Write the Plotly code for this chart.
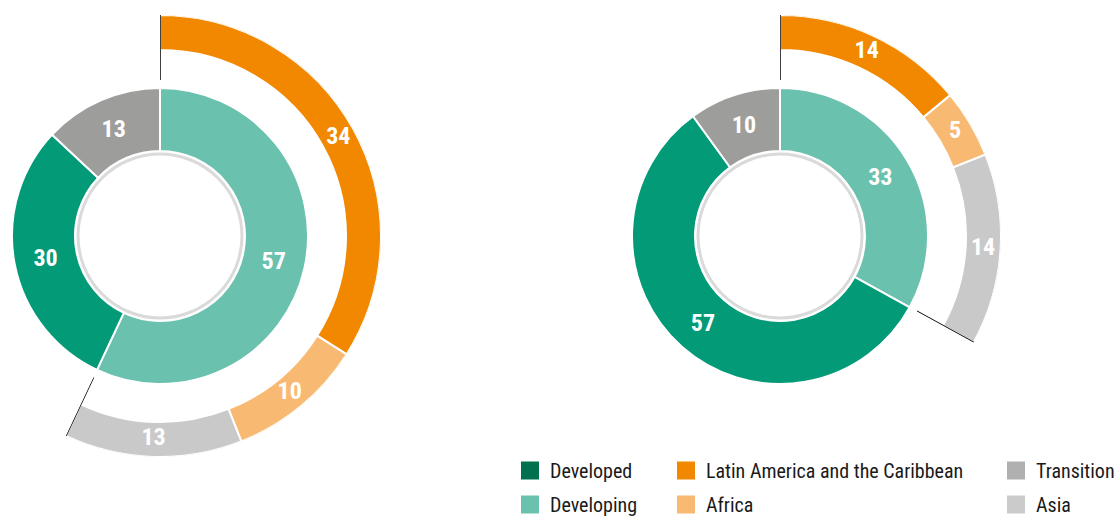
import numpy as np
import plotly.graph_objects as go

W, H = 1116, 516

# Inner ring: economy groups, clockwise from 12 o'clock
group_labels = ["Developing", "Developed", "Transition"]
left_groups = [57, 30, 13]
right_groups = [33, 57, 10]

# Outer ring: regional split of the developing economies
region_labels = ["Latin America and the Caribbean", "Africa", "Asia"]
left_regions = [34, 10, 13]
right_regions = [14, 5, 14]

# Legend columns
legend_columns = [
    ["Developed", "Developing"],
    ["Latin America and the Caribbean", "Africa"],
    ["Transition", "Asia"],
]

ring_colors = {
    "Developing": "#6ac1ae",
    "Developed": "#039a78",
    "Transition": "#9d9d9c",
    "Latin America and the Caribbean": "#f18800",
    "Africa": "#f8ba73",
    "Asia": "#c9c9c9",
}
legend_colors = {
    "Developed": "#00704f",
    "Developing": "#6ac1ae",
    "Latin America and the Caribbean": "#f18800",
    "Africa": "#f8ba73",
    "Transition": "#b0b0b0",
    "Asia": "#cbcbcb",
}

FONT = "Liberation Sans Narrow, Roboto Condensed, Arial Narrow, DejaVu Sans Condensed, sans-serif"

# geometry (pixels)
CY = 236
CENTERS = [160, 780]
R_INNER = 148      # outer edge of the inner ring
R_HOLE = 85        # hole of the inner ring
R_DISC = 82        # grey-rimmed centre disc
R_OUT_IN = 186     # outer ring, inner edge
R_OUT = 221        # outer ring, outer edge
R_TICK = 156       # start of the black marker lines


def sector_bbox(a0, a1):
    angles = [a0, a1] + [a for a in range(-360, 721, 90) if a0 < a < a1]
    xs = [0.0] + [np.cos(np.radians(a)) for a in angles]
    ys = [0.0] + [np.sin(np.radians(a)) for a in angles]
    return min(xs), min(ys), max(xs), max(ys)


fig = go.Figure()
shapes = []
polar_layouts = {}

charts = [(left_groups, left_regions), (right_groups, right_regions)]
for i, ((groups, regions), cx) in enumerate(zip(charts, CENTERS)):
    # inner donut
    fig.add_trace(go.Pie(
        labels=group_labels,
        values=groups,
        sort=False,
        direction="clockwise",
        rotation=0,
        hole=R_HOLE / R_INNER,
        domain=dict(x=[(cx - R_INNER) / W, (cx + R_INNER) / W],
                    y=[(H - CY - R_INNER) / H, (H - CY + R_INNER) / H]),
        marker=dict(colors=[ring_colors[l] for l in group_labels],
                    line=dict(color="white", width=2)),
        textinfo="value",
        textposition="inside",
        insidetextorientation="horizontal",
        insidetextfont=dict(family=FONT, size=24, color="white", weight=700),
        hoverinfo="label+value",
        showlegend=False,
    ))

    shapes.append(dict(
        type="circle", xref="paper", yref="paper",
        x0=(cx - R_DISC) / W, x1=(cx + R_DISC) / W,
        y0=(H - CY - R_DISC) / H, y1=(H - CY + R_DISC) / H,
        line=dict(color="#dadada", width=3), fillcolor="white", layer="above",
    ))

    # outer partial ring covering the developing share
    total = sum(groups)
    widths = np.array(regions) / total * 360.0
    starts = np.concatenate([[0.0], np.cumsum(widths)[:-1]])
    mids = starts + widths / 2
    span = float(np.sum(widths))

    a0, a1 = 90.0 - span, 90.0
    bx0, by0, bx1, by1 = sector_bbox(a0, a1)
    pname = "polar" if i == 0 else f"polar{i + 1}"
    polar_layouts[pname] = dict(
        domain=dict(x=[(cx + bx0 * R_OUT) / W, (cx + bx1 * R_OUT) / W],
                    y=[(H - (CY - by0 * R_OUT)) / H, (H - (CY - by1 * R_OUT)) / H]),
        sector=[a0, a1],
        hole=R_TICK / R_OUT,
        bgcolor="rgba(0,0,0,0)",
        radialaxis=dict(range=[R_TICK, R_OUT], visible=False),
        angularaxis=dict(direction="clockwise", rotation=90, visible=False),
    )

    fig.add_trace(go.Barpolar(
        subplot=pname,
        r=[R_OUT - R_OUT_IN] * len(regions),
        base=[R_OUT_IN] * len(regions),
        theta=mids,
        width=widths,
        marker=dict(color=[ring_colors[l] for l in region_labels],
                    line=dict(color="white", width=2)),
        text=region_labels,
        hoverinfo="text",
        showlegend=False,
    ))
    fig.add_trace(go.Scatterpolar(
        subplot=pname,
        r=[R_TICK, R_OUT, None, R_TICK, R_OUT],
        theta=[0, 0, None, span, span],
        mode="lines",
        line=dict(color="black", width=1.5),
        cliponaxis=False,
        hoverinfo="skip",
        showlegend=False,
    ))
    fig.add_trace(go.Scatterpolar(
        subplot=pname,
        r=[(R_OUT_IN + R_OUT) / 2] * len(regions),
        theta=mids,
        mode="text",
        text=[str(v) for v in regions],
        textfont=dict(family=FONT, size=24, color="white", weight=700),
        cliponaxis=False,
        hoverinfo="skip",
        showlegend=False,
    ))

# legend entries, one legend per column
legend_x = [510, 666, 996]
legend_names = ["legend", "legend2", "legend3"]
for col, (names, lname) in enumerate(zip(legend_columns, legend_names)):
    for name in names:
        fig.add_trace(go.Scatter(
            x=[None], y=[None], mode="markers", name=name,
            legend=lname, legendgroup=name,
            marker=dict(symbol="square", size=16, color=legend_colors[name],
                        line=dict(color=legend_colors[name], width=2)),
        ))

legend_style = dict(
    orientation="v", xanchor="left", yanchor="top",
    y=(H - 451) / H, bgcolor="rgba(0,0,0,0)",
    font=dict(family=FONT, size=20, color="#1a1a1a"),
    tracegroupgap=5, itemwidth=30,
)

fig.update_layout(
    width=W, height=H, autosize=False,
    margin=dict(l=0, r=0, t=0, b=0, autoexpand=False),
    paper_bgcolor="white", plot_bgcolor="white",
    xaxis=dict(visible=False), yaxis=dict(visible=False),
    shapes=shapes,
    showlegend=True,
    legend=dict(legend_style, x=legend_x[0] / W),
    legend2=dict(legend_style, x=legend_x[1] / W),
    legend3=dict(legend_style, x=legend_x[2] / W),
    **polar_layouts,
)

fig.write_html("out.html")
